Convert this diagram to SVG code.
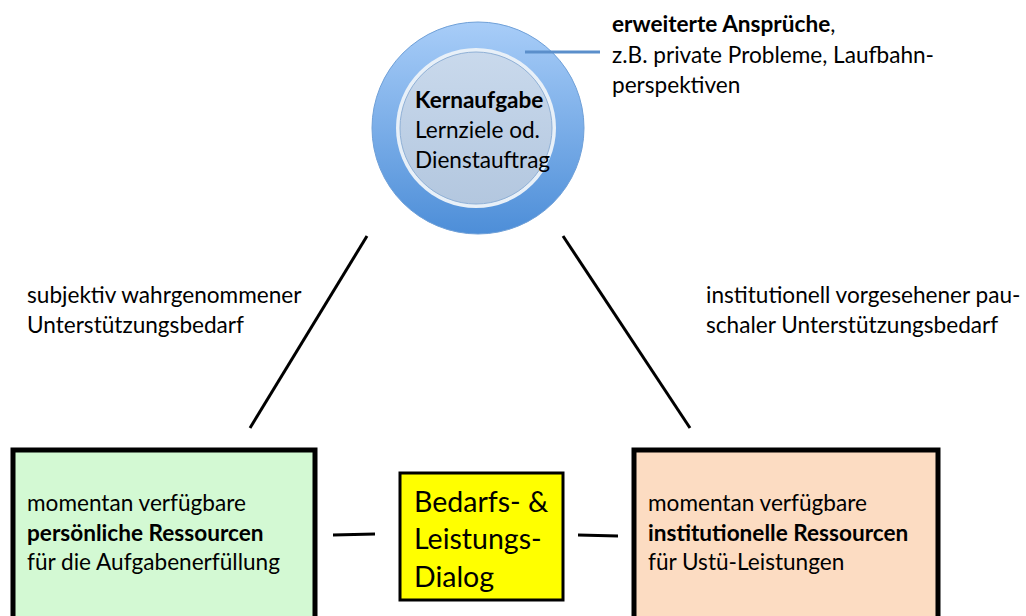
<svg xmlns="http://www.w3.org/2000/svg" width="1026" height="616" viewBox="0 0 1026 616">
<defs>
<linearGradient id="ring" x1="0" y1="0" x2="0" y2="1">
<stop offset="0" stop-color="#a8cdf8"/>
<stop offset="1" stop-color="#4d8ed8"/>
</linearGradient>
<linearGradient id="core" x1="0" y1="0" x2="0" y2="1">
<stop offset="0" stop-color="#c9d9ec"/>
<stop offset="1" stop-color="#b3c7df"/>
</linearGradient>
</defs>
<style>
text{font-family:Lato,"Open Sans","DejaVu Sans",sans-serif;fill:#000}
.t{font-size:22.6px}
.c{font-size:22.6px}
.y{font-size:28.5px}
.b{font-weight:bold}
.ln{stroke:#000;stroke-width:3;fill:none}
.box{stroke:#000;stroke-width:5}
</style>
<g id="core-circle">
<circle cx="478" cy="128" r="106" fill="url(#ring)" stroke="#6fa0d8" stroke-width="1"/>
<circle cx="476" cy="128" r="80" fill="#e8f0f8"/>
<circle cx="476" cy="128" r="76" fill="url(#core)" stroke="#8fb0d6" stroke-width="1"/>
<text class="c b" x="415" y="108">Kernaufgabe</text>
<text class="c" x="415" y="138">Lernziele od.</text>
<text class="c" x="415" y="168">Dienstauftrag</text>
</g>
<g id="connectors">
<line class="ln" x1="367" y1="236" x2="250" y2="428"/>
<line class="ln" x1="563" y1="236" x2="690" y2="428"/>
<line class="ln" x1="333" y1="535" x2="375" y2="534"/>
<line class="ln" x1="578" y1="535" x2="618" y2="536"/>
<line x1="525" y1="52" x2="600" y2="52" stroke="#5b8fcb" stroke-width="3"/>
</g>
<g id="extended">
<text class="t" x="612" y="32"><tspan class="b">erweiterte Ansprüche</tspan>,</text>
<text class="t" x="612" y="63">z.B. private Probleme, Laufbahn-</text>
<text class="t" x="612" y="93">perspektiven</text>
</g>
<g id="label-left">
<text class="t" x="27" y="303">subjektiv wahrgenommener</text>
<text class="t" x="27" y="333">Unterstützungsbedarf</text>
</g>
<g id="label-right">
<text class="t" x="706" y="303">institutionell vorgesehener pau-</text>
<text class="t" x="706" y="333">schaler Unterstützungsbedarf</text>
</g>
<g id="personal">
<rect class="box" x="13" y="450" width="302" height="180" fill="#d3f9d3"/>
<text class="t" x="27" y="511">momentan verfügbare</text>
<text class="t b" x="27" y="541">persönliche Ressourcen</text>
<text class="t" x="27" y="570">für die Aufgabenerfüllung</text>
</g>
<g id="dialog">
<rect x="400" y="473" width="163" height="127" fill="#ffff00" stroke="#000" stroke-width="3"/>
<text class="y" x="414" y="512">Bedarfs- &amp;</text>
<text class="y" x="414" y="549">Leistungs-</text>
<text class="y" x="414" y="587">Dialog</text>
</g>
<g id="institutional">
<rect class="box" x="634" y="450" width="304" height="180" fill="#fcdcc2"/>
<text class="t" x="648" y="511">momentan verfügbare</text>
<text class="t b" x="648" y="541">institutionelle Ressourcen</text>
<text class="t" x="648" y="570">für Ustü-Leistungen</text>
</g>
</svg>
